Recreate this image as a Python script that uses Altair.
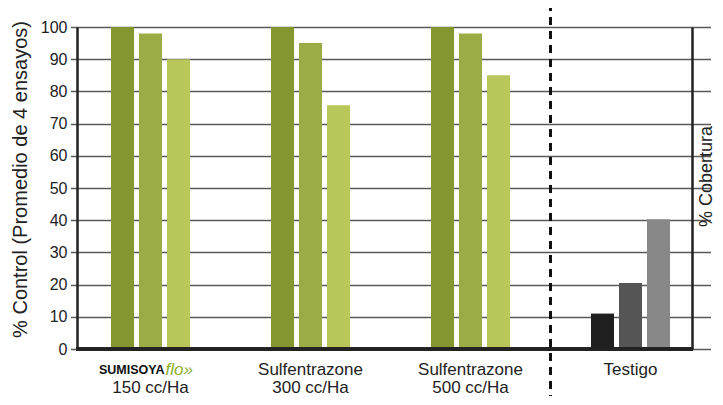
import altair as alt
import pandas as pd

groups = ["SUMISOYA\n150 cc/Ha", "Sulfentrazone\n300 cc/Ha", "Sulfentrazone\n500 cc/Ha", "Testigo"]
series = ["s1", "s2", "s3"]
values = [
    [100, 98, 90],
    [100, 95, 75.7],
    [100, 98, 85],
    [11, 20.5, 40.3],
]
colors = [
    ["#83962f", "#9bab45", "#b9c65a"],
    ["#83962f", "#9bab45", "#b9c65a"],
    ["#83962f", "#9bab45", "#b9c65a"],
    ["#1f1f1f", "#555555", "#888888"],
]
y_ticks = [0, 10, 20, 30, 40, 50, 60, 70, 80, 90, 100]

rows = []
for g, vals, cols in zip(groups, values, colors):
    for s, v, c in zip(series, vals, cols):
        rows.append({"group": g, "series": s, "value": v, "color": c})
df = pd.DataFrame(rows)

W, H = 615, 322
TOP = 19
LEFT = 69
FONT = "Liberation Sans"

xscale = alt.Scale(domain=groups, range=[-6.5, 633.5], paddingInner=0, paddingOuter=0)

label_expr = ("datum.value == 'SUMISOYA\\n150 cc/Ha' ? ['', '150 cc/Ha'] : "
              "split(datum.value, '\\n')")

bars = alt.Chart(df).mark_bar().encode(
    x=alt.X("group:N", scale=xscale, sort=groups,
            axis=alt.Axis(title=None, labelExpr=label_expr, ticks=False, domain=False,
                          labelFont=FONT, labelFontSize=17, labelColor="#222",
                          labelPadding=12, labelLineHeight=18, labelAngle=0,
                          labelOverlap=False, labelBound=False)),
    xOffset=alt.XOffset("series:N", scale=alt.Scale(domain=series, range=[40.5, 119.5],
                                                      paddingInner=5 / 28, paddingOuter=0)),
    y=alt.Y("value:Q", scale=alt.Scale(domain=[0, 100], nice=False),
            axis=alt.Axis(values=y_ticks, title="% Control (Promedio de 4 ensayos)",
                          labelFont=FONT, labelFontSize=16, labelColor="#222",
                          ticks=False, labelPadding=10, domain=True, domainColor="#222",
                          domainWidth=2.5, grid=True, gridColor="#5a5a5a", gridWidth=1.5,
                          titleFont=FONT, titleFontSize=20, titleFontWeight="normal",
                          titleColor="#222", titleX=-57, titleY=152, titleAngle=-90,
                          titleBaseline="middle")),
    color=alt.Color("color:N", scale=None),
)

right_axis = alt.Chart(df).mark_rule(opacity=0).encode(
    x=alt.value(W),
    y=alt.Y("value:Q", scale=alt.Scale(domain=[0, 100], nice=False),
            axis=alt.Axis(orient="right", values=y_ticks, labels=False, ticks=False,
                          grid=False, domain=True, domainColor="#222", domainWidth=2.5,
                          title="% Cobertura", titleAngle=-90, titleFont=FONT,
                          titleFontSize=18, titleFontWeight="normal", titleColor="#222",
                          titleX=14, titleY=149, titleBaseline="middle")),
)

bottom = alt.Chart(df).mark_rule(color="#222", strokeWidth=2.5).encode(
    x=alt.value(-1), x2=alt.value(W + 1), y=alt.value(H)
)

divider = alt.Chart(df.head(1)).mark_rule(color="#111", strokeWidth=3, strokeDash=[8, 6]).encode(
    x=alt.X(datum="Testigo", scale=xscale, bandPosition=0),
    y=alt.value(-24), y2=alt.value(H + 47),
)

logo_a = alt.Chart(df.head(1)).mark_text(
    text="SUMISOYA", font=FONT, fontSize=12.5, fontWeight="bold", color="#111",
    align="right", baseline="middle", dx=14
).encode(x=alt.X(datum=groups[0], scale=xscale), y=alt.value(H + 21))

logo_b = alt.Chart(df.head(1)).mark_text(
    text="flo»", font=FONT, fontSize=17, fontStyle="italic", color="#8fae2e",
    align="left", baseline="middle", dx=15
).encode(x=alt.X(datum=groups[0], scale=xscale), y=alt.value(H + 21))

chart = alt.layer(bars, right_axis, bottom, divider, logo_a, logo_b).resolve_axis(
    y="independent"
).properties(
    width=W, height=H,
    autosize=alt.AutoSizeParams(type="none"),
    padding={"left": LEFT, "top": TOP, "right": 707 - LEFT - W, "bottom": 389 - H - TOP},
).configure_view(stroke=None)

chart.save("out.html", embed_options={"renderer": "svg", "actions": False})
